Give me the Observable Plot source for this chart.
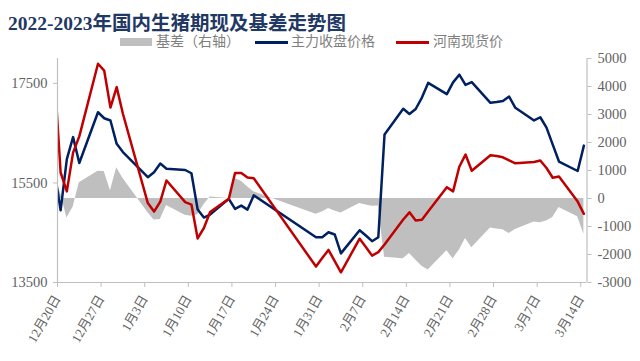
<!DOCTYPE html>
<html>
<head>
<meta charset="utf-8">
<script src="https://cdn.jsdelivr.net/npm/d3@7"></script>
<script src="https://cdn.jsdelivr.net/npm/@observablehq/plot@0.6"></script>
<style>
  html, body { margin: 0; padding: 0; background: #fff; }
  body { width: 640px; height: 361px; position: relative; overflow: hidden; }
  #title { position: absolute; left: 8px; top: 7px; font-family: "Liberation Serif", "Noto Sans CJK SC", serif; font-weight: bold; font-size: 19.5px; color: #1f3864; white-space: nowrap; letter-spacing: 0px; }
  #legend { position: absolute; left: 120px; top: 33px; height: 18px; font-family: "Liberation Serif", "Noto Sans CJK SC", serif; font-size: 14px; color: #7f7f7f; white-space: nowrap; }
  .item { position: absolute; top: 0; height: 18px; line-height: 18px; }
  .sw { position: absolute; }
  #chart { position: absolute; left: 0; top: 50px; }
</style>
</head>
<body>
<div id="title">2022-2023年国内生猪期现及基差走势图</div>
<div id="legend"></div>
<div id="chart"></div>
<script>
// ---- data ----
const dates = [
  "2022-12-19","2022-12-20","2022-12-21","2022-12-22","2022-12-23",
  "2022-12-26","2022-12-27","2022-12-28","2022-12-29","2022-12-30",
  "2023-01-03","2023-01-04","2023-01-05","2023-01-06",
  "2023-01-09","2023-01-10","2023-01-11","2023-01-12","2023-01-13",
  "2023-01-16","2023-01-17","2023-01-18","2023-01-19","2023-01-20",
  "2023-01-30","2023-01-31","2023-02-01","2023-02-02","2023-02-03",
  "2023-02-06","2023-02-07","2023-02-08","2023-02-09","2023-02-10",
  "2023-02-13","2023-02-14","2023-02-15","2023-02-16","2023-02-17",
  "2023-02-20","2023-02-21","2023-02-22","2023-02-23","2023-02-24",
  "2023-02-27","2023-02-28","2023-03-01","2023-03-02","2023-03-03",
  "2023-03-06","2023-03-07","2023-03-08","2023-03-09","2023-03-10",
  "2023-03-13","2023-03-14"
];
// 主力收盘价格 (left axis)
const futures = [
  15750, 14950, 15980, 16420, 15900,
  16920, 16800, 16755, 16285, 16120,
  15615, 15715, 15890, 15785,
  15760, 15695, 14965, 14805, 14865,
  15180, 14980, 15045, 14965, 15250,
  14410, 14410, 14510, 14465, 14085,
  14550, 14445, 14330, 14410, 16475,
  16990, 16885, 16985, 17215, 17510,
  17285, 17520, 17675, 17470, 17525,
  17110, 17125, 17145, 17235, 17010,
  16755, 16820, 16610, 16270, 15930,
  15740, 16250
];
// 河南现货价 (left axis)
const spot = [
  17700, 15710, 15330, 16110, 16435,
  17895, 17755, 17015, 17425, 16890,
  15095, 14925, 15125, 15550,
  15115, 15065, 14385, 14595, 14915,
  15180, 15700, 15700, 15610, 15595,
  13820, 13990, 14155, 13930, 13705,
  14380, 14215, 14040, 14110, 14265,
  14765, 14910, 14745, 14760, 14925,
  15415, 15330, 15825, 16070, 15745,
  16055, 16040, 16015, 15955, 15895,
  15920, 15950, 15800, 15605, 15630,
  15125, 14880
];
// 基差 (right axis)
const basis = [
  700, 200, -700, -310, 560,
  970, 960, 280, 1100, 720,
  -500, -770, -750, -250,
  -600, -630, -580, -220, 50,
  0, 710, 620, 420, 240,
  -560, -480, -360, -450, -520,
  -180, -230, -280, -270, -2100,
  -2150, -1960, -2200, -2420, -2550,
  -1870, -2150, -1850, -1430, -1760,
  -1050, -1090, -1120, -1250, -1110,
  -840, -870, -800, -680, -320,
  -650, -1280
];
const leftTicks = [13500, 15500, 17500];
const rightTicks = [5000, 4000, 3000, 2000, 1000, 0, -1000, -2000, -3000];
const xTickDates = ["2022-12-20","2022-12-27","2023-01-03","2023-01-10","2023-01-17","2023-01-24","2023-01-31","2023-02-07","2023-02-14","2023-02-21","2023-02-28","2023-03-07","2023-03-14"];
const xDomainDates = ["2022-12-20", "2023-03-15"];
const leftDomain = [13500, 18000];
const rightDomain = [-3000, 5000];
const seriesNames = ["基差（右轴）", "主力收盘价格", "河南现货价"];
const seriesColors = ["#BFBFBF", "#002060", "#C00000"];

// ---- helpers ----
const k = (leftDomain[1] - leftDomain[0]) / (rightDomain[1] - rightDomain[0]);
const toLeft = r => leftDomain[0] + (r - rightDomain[0]) * k;
const fromLeft = v => rightDomain[0] + (v - leftDomain[0]) / k;
const day = s => new Date(s + "T00:00:00Z");
const rows = dates.map((d, i) => ({
  date: new Date(day(d).getTime() + 12 * 3600 * 1000), // centre of the day band
  futures: futures[i], spot: spot[i], basis: basis[i]
}));
const xDomain = xDomainDates.map(day);
const axisGray = "#BFBFBF";
const textGray = "#636363";
const font = '"Liberation Serif", "Noto Sans CJK SC", serif';

// ---- legend ----
const legend = document.getElementById("legend");
const legendLayout = [
  {sw: [0, 32, 8], tx: 36},
  {sw: [135, 33, 3], tx: 171},
  {sw: [276, 33, 3], tx: 313}
];
legendLayout.forEach((L, i) => {
  const s = document.createElement("div");
  s.className = "sw";
  s.style.left = L.sw[0] + "px";
  s.style.width = L.sw[1] + "px";
  s.style.height = L.sw[2] + "px";
  s.style.top = (9 - L.sw[2] / 2) + "px";
  s.style.background = seriesColors[i];
  legend.appendChild(s);
  const t = document.createElement("div");
  t.className = "item";
  t.style.left = L.tx + "px";
  t.textContent = seriesNames[i];
  legend.appendChild(t);
});

// ---- chart ----
const chart = Plot.plot({
  width: 640,
  height: 311,
  marginTop: 8,
  marginBottom: 79,
  marginLeft: 57,
  marginRight: 53.5,
  style: {fontFamily: font, background: "transparent", overflow: "visible"},
  x: {type: "utc", domain: xDomain, label: null},
  y: {domain: leftDomain, label: null},
  marks: [
    Plot.areaY(rows, {x: "date", y1: () => toLeft(0), y2: d => toLeft(d.basis), fill: seriesColors[0], clip: true}),
    Plot.lineY(rows, {x: "date", y: "futures", stroke: seriesColors[1], strokeWidth: 2.5, clip: true}),
    Plot.lineY(rows, {x: "date", y: "spot", stroke: seriesColors[2], strokeWidth: 2.5, clip: true}),
    Plot.ruleX([xDomain[0]], {stroke: axisGray, strokeWidth: 1.2}),
    Plot.ruleX([xDomain[1]], {stroke: axisGray, strokeWidth: 1.2}),
    Plot.ruleY([leftDomain[0]], {stroke: axisGray, strokeWidth: 1.2}),
    Plot.axisY(leftTicks, {anchor: "left", tickSize: 4, tickPadding: 6, stroke: axisGray, fill: textGray, fontSize: 14.5, tickFormat: d => String(d), label: null}),
    Plot.axisY(rightTicks.map(toLeft), {anchor: "right", tickSize: 4, tickPadding: 6.5, stroke: axisGray, fill: textGray, fontSize: 14.5, tickFormat: v => String(Math.round(fromLeft(v))), label: null}),
    Plot.axisX(xTickDates.map(day), {anchor: "bottom", tickSize: 5, tickPadding: 9, tickRotate: -60, stroke: axisGray, fill: textGray, fontSize: 13, tickFormat: d => `${d.getUTCMonth() + 1}月${d.getUTCDate()}日`, label: null})
  ]
});
document.getElementById("chart").appendChild(chart);
</script>
</body>
</html>
